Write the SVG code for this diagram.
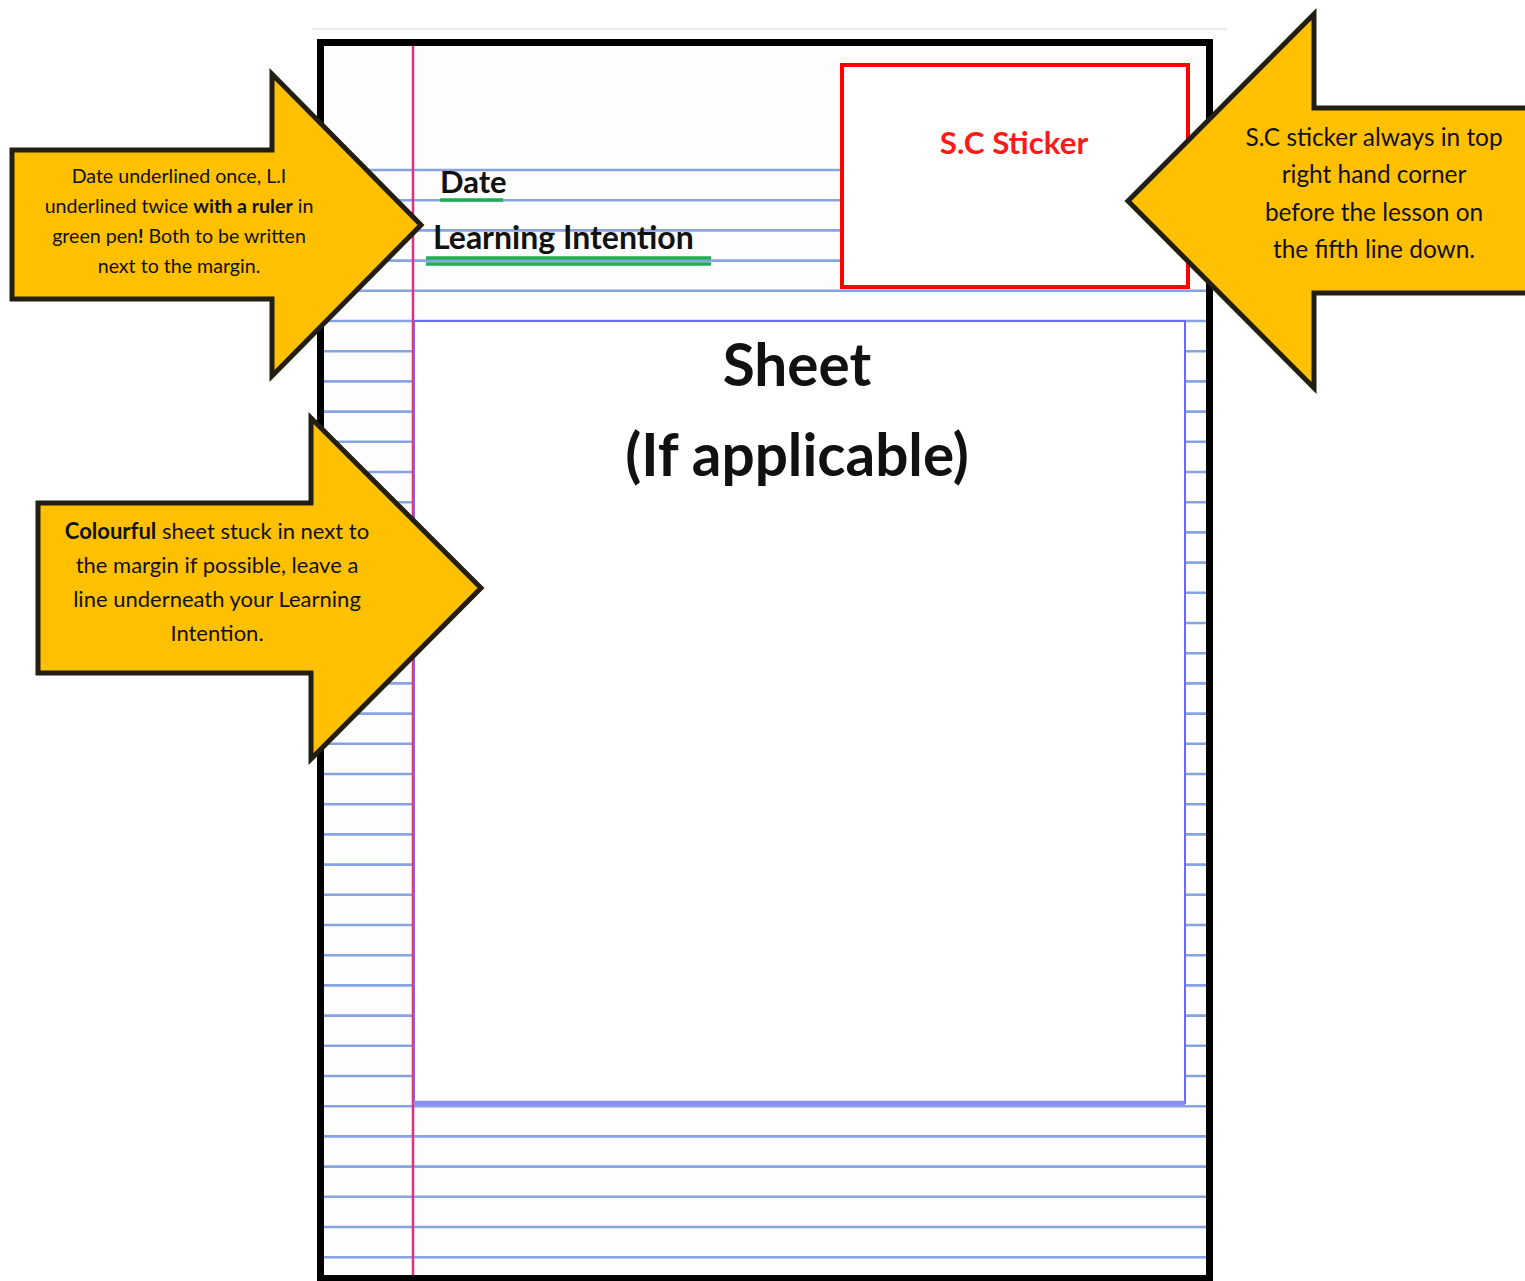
<svg xmlns="http://www.w3.org/2000/svg" width="1525" height="1281" viewBox="0 0 1525 1281">
<style>
.rule{stroke:#86a4e2;stroke-width:2.6}
.arrow{fill:#ffc000;stroke:#221e12;stroke-width:5;stroke-linejoin:miter}
.t{font-family:Lato,"Liberation Sans",sans-serif;fill:#111;text-anchor:middle}
.b{font-weight:bold}
.hw{font-family:Lato,"Liberation Sans",sans-serif;font-weight:bold;fill:#111}
.green{stroke:#1fae55;stroke-width:3.5}
</style>
<rect width="1525" height="1281" fill="#fff"/>
<line x1="312" y1="29" x2="1227" y2="29" stroke="#e2e2e2" stroke-width="1.5"/>
<g id="page">
<rect x="320" y="42" width="890" height="1236" fill="#fdfdfd"/>
<g id="rules">
<line class="rule" x1="324" x2="840" y1="170" y2="170"/>
<line class="rule" x1="324" x2="840" y1="200.2" y2="200.2"/>
<line class="rule" x1="324" x2="840" y1="230.4" y2="230.4"/>
<line class="rule" x1="324" x2="840" y1="260.6" y2="260.6"/>
<line class="rule" x1="324" x2="1207" y1="290.8" y2="290.8"/>
<line class="rule" x1="324" x2="1207" y1="321" y2="321"/>
<line class="rule" x1="324" x2="1207" y1="351.2" y2="351.2"/>
<line class="rule" x1="324" x2="1207" y1="381.4" y2="381.4"/>
<line class="rule" x1="324" x2="1207" y1="411.6" y2="411.6"/>
<line class="rule" x1="324" x2="1207" y1="441.8" y2="441.8"/>
<line class="rule" x1="324" x2="1207" y1="472" y2="472"/>
<line class="rule" x1="324" x2="1207" y1="502.2" y2="502.2"/>
<line class="rule" x1="324" x2="1207" y1="532.4" y2="532.4"/>
<line class="rule" x1="324" x2="1207" y1="562.6" y2="562.6"/>
<line class="rule" x1="324" x2="1207" y1="592.8" y2="592.8"/>
<line class="rule" x1="324" x2="1207" y1="623" y2="623"/>
<line class="rule" x1="324" x2="1207" y1="653.2" y2="653.2"/>
<line class="rule" x1="324" x2="1207" y1="683.4" y2="683.4"/>
<line class="rule" x1="324" x2="1207" y1="713.6" y2="713.6"/>
<line class="rule" x1="324" x2="1207" y1="743.8" y2="743.8"/>
<line class="rule" x1="324" x2="1207" y1="774" y2="774"/>
<line class="rule" x1="324" x2="1207" y1="804.2" y2="804.2"/>
<line class="rule" x1="324" x2="1207" y1="834.4" y2="834.4"/>
<line class="rule" x1="324" x2="1207" y1="864.6" y2="864.6"/>
<line class="rule" x1="324" x2="1207" y1="894.8" y2="894.8"/>
<line class="rule" x1="324" x2="1207" y1="925" y2="925"/>
<line class="rule" x1="324" x2="1207" y1="955.2" y2="955.2"/>
<line class="rule" x1="324" x2="1207" y1="985.4" y2="985.4"/>
<line class="rule" x1="324" x2="1207" y1="1015.6" y2="1015.6"/>
<line class="rule" x1="324" x2="1207" y1="1045.8" y2="1045.8"/>
<line class="rule" x1="324" x2="1207" y1="1076" y2="1076"/>
<line class="rule" x1="324" x2="1207" y1="1106.2" y2="1106.2"/>
<line class="rule" x1="324" x2="1207" y1="1136.4" y2="1136.4"/>
<line class="rule" x1="324" x2="1207" y1="1166.6" y2="1166.6"/>
<line class="rule" x1="324" x2="1207" y1="1196.8" y2="1196.8"/>
<line class="rule" x1="324" x2="1207" y1="1227" y2="1227"/>
<line class="rule" x1="324" x2="1207" y1="1257.2" y2="1257.2"/>
</g>
<line x1="413" y1="46" x2="413" y2="1276" stroke="#e0307e" stroke-width="2.5"/>
</g>
<g id="sheet">
<rect x="414" y="321" width="771" height="782" fill="#fff" stroke="#6a6af5" stroke-width="2"/>
<line x1="414" y1="1103" x2="1185" y2="1103" stroke="#8c8cf7" stroke-width="4.5"/>
<text class="t b" x="797" y="386" font-size="58.5">Sheet</text>
<text class="t b" x="797" y="476" font-size="58.5">(If applicable)</text>
</g>
<g id="sticker">
<rect x="842" y="65" width="346" height="222" fill="#fff" stroke="#ff0000" stroke-width="4"/>
<text class="t b" x="1014" y="154" font-size="31.3" style="fill:#ff1a1a">S.C Sticker</text>
</g>
<g id="headings">
<text class="hw" x="440" y="193" font-size="31">Date</text>
<line class="green" x1="440" y1="200" x2="503" y2="200"/>
<text class="hw" x="433" y="249" font-size="32">Learning Intention</text>
<line class="green" x1="426" y1="258" x2="711" y2="258"/>
<line class="green" x1="426" y1="264" x2="711" y2="264"/>
</g>
<rect x="320.5" y="42.5" width="889" height="1236" fill="none" stroke="#000" stroke-width="7"/>
<g id="arrow-date">
<polygon class="arrow" points="12,150 272,150 272,74 421,225 272,376 272,299 12,299"/>
<text class="t" font-size="19.6"><tspan x="179" y="183">Date underlined once, L.I</tspan><tspan x="179" y="213">underlined twice <tspan class="b">with a ruler</tspan> in</tspan><tspan x="179" y="243">green pen<tspan class="b">!</tspan> Both to be written</tspan><tspan x="179" y="273">next to the margin.</tspan></text>
</g>
<g id="arrow-sticker">
<polygon class="arrow" points="1530,108 1314,108 1314,14 1128,201 1314,388 1314,293 1530,293"/>
<text class="t" font-size="24.4"><tspan x="1374" y="146">S.C sticker always in top</tspan><tspan x="1374" y="183">right hand corner</tspan><tspan x="1374" y="221">before the lesson on</tspan><tspan x="1374" y="258">the fifth line down.</tspan></text>
</g>
<g id="arrow-sheet">
<polygon class="arrow" points="38,503 311,503 311,418 481,588 311,759 311,673 38,673"/>
<text class="t" font-size="22"><tspan x="217" y="539"><tspan class="b">Colourful</tspan> sheet stuck in next to</tspan><tspan x="217" y="573">the margin if possible, leave a</tspan><tspan x="217" y="607">line underneath your Learning</tspan><tspan x="217" y="641">Intention.</tspan></text>
</g>
</svg>
